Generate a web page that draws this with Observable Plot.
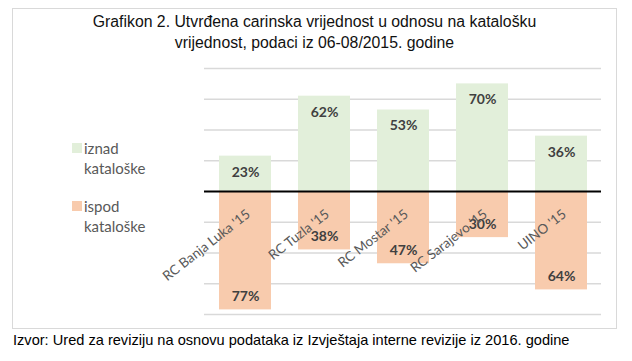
<!DOCTYPE html>
<html>
<head>
<meta charset="utf-8">
<script src="https://cdn.jsdelivr.net/npm/d3@7"></script>
<script src="https://cdn.jsdelivr.net/npm/@observablehq/plot@0.6"></script>
<style>
  html, body { margin: 0; padding: 0; background: #fff; width: 632px; height: 361px; overflow: hidden; }
  #box { position: absolute; left: 12px; top: 8px; width: 603px; height: 319px; border: 1px solid #d9d9d9; }
  #title { position: absolute; left: 12px; top: 11px; width: 605px; text-align: center;
           font-family: "Liberation Sans", Arial, sans-serif; font-size: 15.8px; line-height: 21px; color: #111; }
  #chart { position: absolute; left: 12px; top: 60px; }
  .leg { position: absolute; left: 72px; font-family: Lato, "Open Sans", sans-serif; font-size: 15px; line-height: 20px; color: #595959; }
  .sw { position: absolute; left: 0; top: 5px; width: 10px; height: 10px; }
  .leg span.t { display: block; padding-left: 12px; }
  #caption { position: absolute; left: 13px; top: 332px; font-family: "Liberation Sans", Arial, sans-serif; font-size: 14.6px; color: #000; white-space: nowrap; }
</style>
</head>
<body>
<div id="box"></div>
<div id="title">Grafikon 2. Utvrđena carinska vrijednost u odnosu na katalošku<br>vrijednost, podaci iz 06-08/2015. godine</div>
<div class="leg" style="top:138px"><div class="sw" style="background:#e2efda"></div><span class="t">iznad</span><span class="t">kataloške</span></div>
<div class="leg" style="top:196px"><div class="sw" style="background:#f8cbad"></div><span class="t">ispod</span><span class="t">kataloške</span></div>
<div id="chart"></div>
<div id="caption">Izvor: Ured za reviziju na osnovu podataka iz Izvještaja interne revizije iz 2016. godine</div>
<script>
const categories = ["RC Banja Luka '15", "RC Tuzla '15", "RC Mostar '15", "RC Sarajevo '15", "UINO '15"];
const iznad = [23, 62, 53, 70, 36];
const ispod = [77, 38, 47, 30, 64];
const gridTicks = [-80, -60, -40, -20, 20, 40, 60, 80];

const above = categories.map((c, i) => ({cat: c, v: iznad[i]}));
const below = categories.map((c, i) => ({cat: c, v: -ispod[i], p: ispod[i]}));

const chart = Plot.plot({
  width: 604,
  height: 268,
  marginLeft: 192,
  marginRight: 15,
  marginTop: 8,
  marginBottom: 14,
  x: {domain: categories, paddingInner: 0.346, paddingOuter: 0.17, axis: null},
  y: {domain: [-80, 80], axis: null},
  marks: [
    Plot.ruleY(gridTicks, {stroke: "#d9d9d9", strokeWidth: 1.5}),
    Plot.barY(above, {x: "cat", y1: 0, y2: "v", fill: "#e2efda"}),
    Plot.barY(below, {x: "cat", y1: 0, y2: "v", fill: "#f8cbad"}),
    Plot.ruleY([0], {stroke: "#000", strokeWidth: 2}),
    Plot.text(above, {x: "cat", y: "v", text: d => d.v + "%", dy: 16, fontSize: 14, fontWeight: "bold", fill: "#404040", fontFamily: "Lato"}),
    Plot.text(below, {x: "cat", y: "v", text: d => d.p + "%", dy: -13, fontSize: 14, fontWeight: "bold", fill: "#404040", fontFamily: "Lato"}),
    Plot.text(categories, {x: d => d, y: 0, text: d => d, rotate: -38, textAnchor: "end", dx: 3, dy: 21, fontSize: 13.5, fill: "#595959", fontFamily: "Lato"})
  ]
});
document.getElementById("chart").appendChild(chart);
</script>
</body>
</html>
